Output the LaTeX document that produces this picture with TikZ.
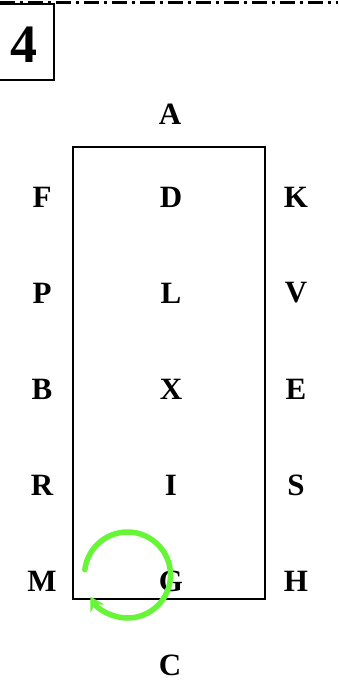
\documentclass[tikz,border=0pt]{standalone}
\usepackage{fontspec}
\setmainfont{Liberation Serif}
\usetikzlibrary{arrows.meta}
\definecolor{arrowgreen}{RGB}{102,245,55}
\begin{document}
\begin{tikzpicture}[x=1pt,y=-1pt,
  lbl/.style={font=\fontsize{31}{32}\selectfont\bfseries, inner sep=0pt, anchor=center},
  frame/.style={draw=black, line width=2.8pt}]
\useasboundingbox (0,0) rectangle (338,687);
% top dash-dot line
\coordinate (tl) at (0,2.5);
\coordinate (tr) at (338,2.5);
\draw[line width=2.8pt, dash pattern=on 15pt off 5pt on 3pt off 5pt] (tl) -- (tr);
% number box
\draw[frame] (-2,4) rectangle (54,80);
\node[font=\fontsize{54}{56}\selectfont\bfseries, inner sep=0pt] (num) at (24,45) {4};
% main rectangle
\draw[frame] (73,147) rectangle (265,599);
\node[lbl] (A) at (170,114) {A};
\node[lbl] (C) at (170,665) {C};
\foreach \l/\m/\r [count=\i from 0] in {F/D/K,P/L/V,B/X/E,R/I/S,M/G/H}{
  \node[lbl] (\l) at (42,197+96*\i) {\l};
  \node[lbl] (\m) at (171,197+96*\i) {\m};
  \node[lbl] (\r) at (296,197+96*\i) {\r};
}
% green rotation arrow
\coordinate (gc) at (127.5,575);
\draw[arrowgreen, line width=5.5pt, line cap=round, -{Stealth[length=14pt,width=16pt]}]
  ([shift={(187:43)}]gc) arc[start angle=187, end angle=510, radius=43];
\end{tikzpicture}
\end{document}
